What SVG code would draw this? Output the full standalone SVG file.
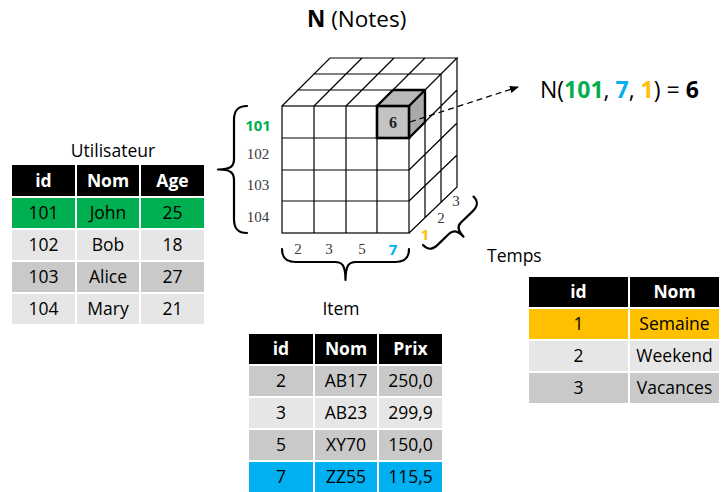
<svg xmlns="http://www.w3.org/2000/svg" width="726" height="492" viewBox="0 0 726 492">
<defs>
<style>
.t{font-family:"Open Sans","Liberation Sans",sans-serif;fill:#000}
.c{font-size:17.5px;text-anchor:middle}
.h{font-size:17.5px;text-anchor:middle;font-weight:bold;fill:#fff}
.hd{fill:#000}
.lt{fill:#e7e6e6}
.dk{fill:#c9c9c9}
.gr{fill:#00b050}
.bl{fill:#00b0f0}
.or{fill:#ffc000}
.g{stroke:#000;stroke-width:1.2;fill:none}
.br{stroke:#000;stroke-width:2.2;fill:none;stroke-linecap:round;stroke-linejoin:round}
.s{font-family:"Liberation Serif","DejaVu Serif",serif;font-size:15px;fill:#3a3a3a;text-anchor:middle}
.sb{font-family:"Open Sans","Liberation Sans",sans-serif;font-size:15px;font-weight:bold;text-anchor:middle}
</style>
<marker id="ah" viewBox="0 0 10 10" refX="9" refY="5" markerWidth="9" markerHeight="9" orient="auto" markerUnits="userSpaceOnUse">
<path d="M0,1 L10,5 L0,9 Z" fill="#000"/>
</marker>
</defs>
<rect width="726" height="492" fill="#fff"/>

<g id="title">
<text class="t" x="307" y="27" font-size="22.5"><tspan font-weight="bold">N</tspan> (Notes)</text>
</g>

<g id="cube">
<!-- front face -->
<rect class="g" x="282" y="106" width="127" height="127"/>
<path class="g" d="M314,106V233M346,106V233M377,106V233M282,138H409M282,170H409M282,201H409"/>
<!-- top face -->
<path class="g" d="M282,106L330,58H457L409,106M298,90H425M314,74H441M314,106L362,58M346,106L394,58M377,106L425,58"/>
<!-- right face -->
<path class="g" d="M457,58V187L409,233M425,90V218M441,74V203M409,138L457,90M409,170L457,123M409,201L457,155"/>
<!-- highlighted cell -->
<path d="M377,106L393,90H425L409,106Z" fill="#b9b9b9"/>
<path d="M409,106L425,90V122L409,138Z" fill="#a9a9a9"/>
<rect x="377" y="106" width="32" height="32" fill="#c3c3c3"/>
<path d="M377,106L393,90H425L409,106M409,106L425,90V122L409,138" fill="none" stroke="#000" stroke-width="2.4" stroke-linejoin="round"/>
<rect x="377" y="106" width="32" height="32" fill="none" stroke="#000" stroke-width="2.6"/>
<text x="393" y="128" font-family="Liberation Serif,serif" font-size="16" font-weight="bold" text-anchor="middle" fill="#222">6</text>
<!-- labels -->
<text class="sb" x="258" y="131" fill="#00b050">101</text>
<text class="s" x="258" y="159">102</text>
<text class="s" x="258" y="190">103</text>
<text class="s" x="258" y="222">104</text>
<text class="s" x="298" y="254">2</text>
<text class="s" x="329" y="254">3</text>
<text class="s" x="362" y="254">5</text>
<text class="sb" x="393" y="255" font-size="16" fill="#00b0f0">7</text>
<text class="sb" x="425" y="240" font-size="16" fill="#ffc000">1</text>
<text class="s" x="441" y="223">2</text>
<text class="s" x="456" y="206">3</text>
</g>

<g id="connectors">
<path class="br" d="M0,0 C0,9 4,13 14,13 L53,13 C60,13 63.5,16 63.5,29 C63.5,16 67,13 74,13 L113,13 C123,13 127,9 127,0" transform="translate(247,106) rotate(90)"/>
<path class="br" d="M0,0 C0,9 4,13 14,13 L53,13 C60,13 63.5,16 63.5,31 C63.5,16 67,13 74,13 L113,13 C123,13 127,9 127,0" transform="translate(282,249)"/>
<path class="br" d="M0,0 C0,7 3,10 11,10 L27,10 C32,10 35,13 35,22 C35,13 38,10 43,10 L59,10 C67,10 70,7 70,0" transform="translate(423,245) rotate(-43.8)"/>
<line x1="410" y1="122" x2="518" y2="87" stroke="#000" stroke-width="1.3" stroke-dasharray="6,4" marker-end="url(#ah)"/>
</g>

<g id="formula">
<text class="t" x="540" y="98" font-size="23">N(<tspan fill="#00b050" font-weight="bold">101</tspan>, <tspan fill="#00b0f0" font-weight="bold">7</tspan>, <tspan fill="#ffc000" font-weight="bold">1</tspan>) = <tspan font-weight="bold">6</tspan></text>
</g>

<g id="utilisateur">
<text class="t" x="113" y="157" font-size="17.5" text-anchor="middle">Utilisateur</text>
<rect class="hd" x="12" y="165" width="63" height="31"/><rect class="hd" x="77" y="165" width="62" height="31"/><rect class="hd" x="141" y="165" width="63" height="31"/>
<text class="t h" x="43.5" y="187">id</text><text class="t h" x="108" y="187">Nom</text><text class="t h" x="172.5" y="187">Age</text>
<rect class="gr" x="12" y="198" width="63" height="30"/><rect class="gr" x="77" y="198" width="62" height="30"/><rect class="gr" x="141" y="198" width="63" height="30"/>
<text class="t c" x="43.5" y="219">101</text><text class="t c" x="108" y="219">John</text><text class="t c" x="172.5" y="219">25</text>
<rect class="lt" x="12" y="230" width="63" height="30"/><rect class="lt" x="77" y="230" width="62" height="30"/><rect class="lt" x="141" y="230" width="63" height="30"/>
<text class="t c" x="43.5" y="251">102</text><text class="t c" x="108" y="251">Bob</text><text class="t c" x="172.5" y="251">18</text>
<rect class="dk" x="12" y="262" width="63" height="30"/><rect class="dk" x="77" y="262" width="62" height="30"/><rect class="dk" x="141" y="262" width="63" height="30"/>
<text class="t c" x="43.5" y="283">103</text><text class="t c" x="108" y="283">Alice</text><text class="t c" x="172.5" y="283">27</text>
<rect class="lt" x="12" y="294" width="63" height="30"/><rect class="lt" x="77" y="294" width="62" height="30"/><rect class="lt" x="141" y="294" width="63" height="30"/>
<text class="t c" x="43.5" y="315">104</text><text class="t c" x="108" y="315">Mary</text><text class="t c" x="172.5" y="315">21</text>
</g>

<g id="item">
<text class="t" x="341" y="315" font-size="17.5" text-anchor="middle">Item</text>
<rect class="hd" x="249" y="334" width="64" height="30"/><rect class="hd" x="315" y="334" width="62" height="30"/><rect class="hd" x="379" y="334" width="63" height="30"/>
<text class="t h" x="281" y="355">id</text><text class="t h" x="346" y="355">Nom</text><text class="t h" x="410.5" y="355">Prix</text>
<rect class="dk" x="249" y="366" width="64" height="30"/><rect class="dk" x="315" y="366" width="62" height="30"/><rect class="dk" x="379" y="366" width="63" height="30"/>
<text class="t c" x="281" y="387">2</text><text class="t c" x="346" y="387">AB17</text><text class="t c" x="410.5" y="387">250,0</text>
<rect class="lt" x="249" y="398" width="64" height="30"/><rect class="lt" x="315" y="398" width="62" height="30"/><rect class="lt" x="379" y="398" width="63" height="30"/>
<text class="t c" x="281" y="419">3</text><text class="t c" x="346" y="419">AB23</text><text class="t c" x="410.5" y="419">299,9</text>
<rect class="dk" x="249" y="430" width="64" height="30"/><rect class="dk" x="315" y="430" width="62" height="30"/><rect class="dk" x="379" y="430" width="63" height="30"/>
<text class="t c" x="281" y="451">5</text><text class="t c" x="346" y="451">XY70</text><text class="t c" x="410.5" y="451">150,0</text>
<rect class="bl" x="249" y="462" width="64" height="30"/><rect class="bl" x="315" y="462" width="62" height="30"/><rect class="bl" x="379" y="462" width="63" height="30"/>
<text class="t c" x="281" y="483">7</text><text class="t c" x="346" y="483">ZZ55</text><text class="t c" x="410.5" y="483">115,5</text>
</g>

<g id="temps">
<text class="t" x="487" y="262" font-size="17.5">Temps</text>
<rect class="hd" x="529" y="277" width="99" height="30"/><rect class="hd" x="630" y="277" width="89" height="30"/>
<text class="t h" x="578.5" y="298">id</text><text class="t h" x="674.5" y="298">Nom</text>
<rect class="or" x="529" y="309" width="99" height="30"/><rect class="or" x="630" y="309" width="89" height="30"/>
<text class="t c" x="578.5" y="330">1</text><text class="t c" x="674.5" y="330">Semaine</text>
<rect class="lt" x="529" y="341" width="99" height="30"/><rect class="lt" x="630" y="341" width="89" height="30"/>
<text class="t c" x="578.5" y="362">2</text><text class="t c" x="674.5" y="362">Weekend</text>
<rect class="dk" x="529" y="373" width="99" height="30"/><rect class="dk" x="630" y="373" width="89" height="30"/>
<text class="t c" x="578.5" y="394">3</text><text class="t c" x="674.5" y="394">Vacances</text>
</g>
</svg>
